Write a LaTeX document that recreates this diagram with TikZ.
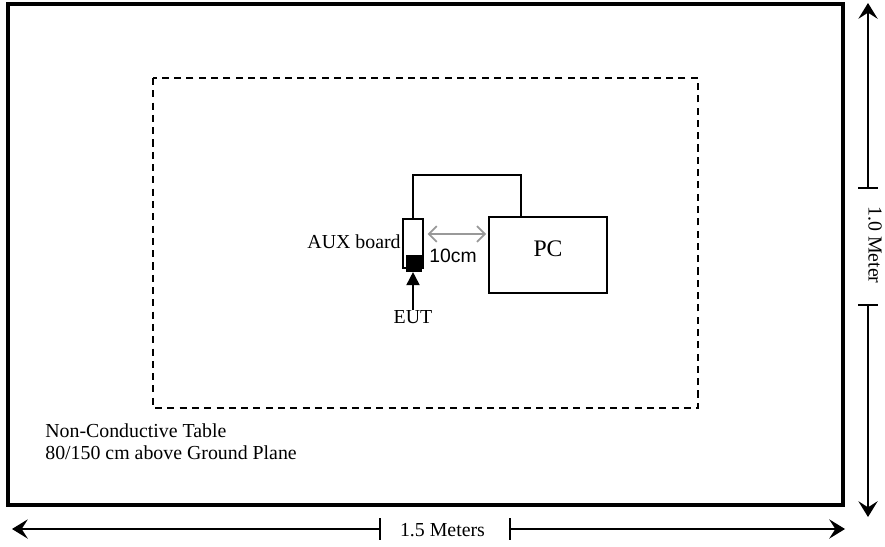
\documentclass[tikz,border=0pt]{standalone}
\usepackage{fontspec}
\setmainfont{Liberation Serif}
\newfontfamily\armfont{Liberation Sans}
\usetikzlibrary{arrows.meta}

\begin{document}
\begin{tikzpicture}[
    x=0.02cm, y=-0.02cm,
    lbl/.style={font=\fontsize{11.3}{13}\selectfont, inner sep=0pt},
    unit/.style={draw, rectangle, line width=1.2pt, inner sep=0pt},
    wire/.style={line width=1.2pt},
    dim/.style={line width=0.9pt, -{Stealth[length=9pt, width=11pt, inset=3.5pt]}},
    tick/.style={line width=0.9pt},
    gap/.style={draw=gray!80, line width=1pt, {Straight Barb[length=4.5pt, width=9pt]}-{Straight Barb[length=4.5pt, width=9pt]}},
    pin/.style={line width=1pt, -{Triangle[length=7.5pt, width=7.5pt]}},
]
\useasboundingbox (0,0) rectangle (885,547);

% table and test area
\draw[line width=1.8pt] (8,4) rectangle (843,505);
\draw[line width=0.9pt, dash pattern=on 4pt off 3pt] (153,78) rectangle (698,408);

% units
\node[unit, minimum width=2.36cm, minimum height=1.52cm, text depth=0.26cm,
      font=\fontsize{13.5}{15}\selectfont] (pc) at (548,255) {PC};
\node[unit, minimum width=0.4cm, minimum height=0.98cm] (aux) at (413,243.5) {};
\node[unit, fill=black, minimum width=0.26cm, minimum height=0.3cm] (chip) at (414,263.5) {};
\coordinate (pcin) at (521,217);

\draw[wire] (aux.north) -- ++(0,-43) -| (pcin);
\draw[gap] ([xshift=2pt, yshift=0.19cm]aux.east) -- ([xshift=-1pt, yshift=0.42cm]pc.west);

% labels
\node[lbl, anchor=east] (auxlbl) at (401,242) {AUX board};
\node[lbl] (eut) at (413,317) {EUT};
\node[inner sep=0pt, font=\armfont\fontsize{11}{13}\selectfont] (dist) at (453,256) {10cm};
\node[lbl, anchor=north west, align=left] (tbl) at (45,423) {Non-Conductive Table\\80/150 cm above Ground Plane};

\draw[pin] (eut.north) -- (eut.north |- chip.south);

% width
\coordinate (hl) at (12,529);
\coordinate (hr) at (845,529);
\coordinate (htl) at (380,529);
\coordinate (htr) at (510,529);
\node[lbl] (hlen) at (442.5,530) {1.5 Meters};
\draw[dim] (htl) -- (hl);
\draw[dim] (htr) -- (hr);
\draw[tick] ([yshift=0.22cm]htl) -- ([yshift=-0.22cm]htl);
\draw[tick] ([yshift=0.22cm]htr) -- ([yshift=-0.22cm]htr);

% depth
\coordinate (vt) at (868,3);
\coordinate (vb) at (868,517);
\coordinate (vtt) at (868,188);
\coordinate (vtb) at (868,305);
\node[lbl, rotate=-90] (vlen) at (875,245) {1.0 Meter};
\draw[dim] (vtt) -- (vt);
\draw[dim] (vtb) -- (vb);
\draw[tick] ([xshift=-0.2cm]vtt) -- ([xshift=0.2cm]vtt);
\draw[tick] ([xshift=-0.2cm]vtb) -- ([xshift=0.2cm]vtb);
\end{tikzpicture}
\end{document}
